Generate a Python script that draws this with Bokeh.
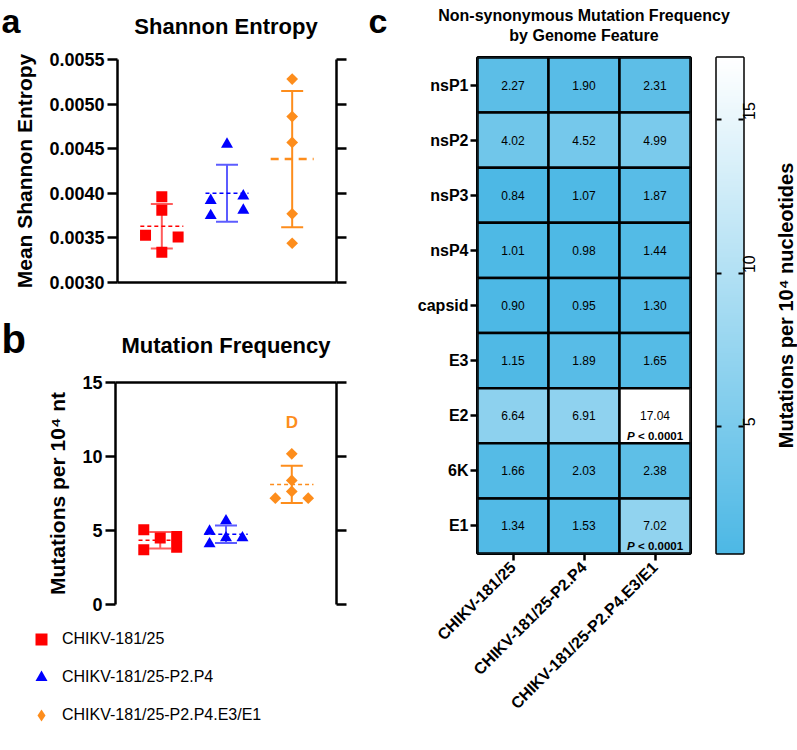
import numpy as np
from bokeh.plotting import figure
from bokeh.models import (ColumnDataSource, FixedTicker, PrintfTickFormatter, CustomJSTickFormatter,
                          LinearAxis, Label, Title, Whisker, TeeHead, Legend, LegendItem,
                          LinearColorMapper, FactorRange, Range1d)
from bokeh.layouts import row, column
from bokeh.embed import file_html
from bokeh.resources import INLINE
from bokeh.core.properties import value

FONT = "Liberation Sans"
MID = 0.3465  # distance (em) between the vertical middle of a text box and its baseline

# ---------------- data ----------------
groups = ["CHIKV-181/25", "CHIKV-181/25-P2.P4", "CHIKV-181/25-P2.P4.E3/E1"]

# panel a: mean Shannon entropy, 5 replicates per virus
entropy_181 = [0.00396, 0.00381, 0.00353, 0.00351, 0.00334]
entropy_p2p4 = [0.00455, 0.00392, 0.00397, 0.00375, 0.00381]
entropy_e3e1 = [0.00528, 0.00486, 0.00457, 0.00377, 0.00344]

# panel b: mutation frequency (mutations per 10^4 nt)
mutfreq_181 = [5.05, 3.70, 4.50, 4.60, 3.87]
mutfreq_p2p4 = [5.65, 4.95, 4.10, 4.50, 4.50]
mutfreq_e3e1 = [10.18, 8.38, 7.64, 7.18, 7.18]

# scatter slot of each replicate inside its column (-1 left, 0 centre, 1 right)
entropy_slot = [[0, 0, -1, 1, 0], [0, -1, 1, -1, 1], [0, 0, 0, 0, 0]]
mutfreq_slot = [[-1, -1, 0, 1, 1], [0, -1, -1, 0, 1], [0, 0, 0, -1, 1]]

entropy_ticks = [0.0030, 0.0035, 0.0040, 0.0045, 0.0050, 0.0055]
mutfreq_ticks = [0, 5, 10, 15]
mutfreq_sig_label = "D"
mutfreq_sig_y = 12.3

# panel c: non-synonymous mutation frequency by genome feature
features = ["nsP1", "nsP2", "nsP3", "nsP4", "capsid", "E3", "E2", "6K", "E1"]
nonsyn_181 = [2.27, 4.02, 0.84, 1.01, 0.90, 1.15, 6.64, 1.66, 1.34]
nonsyn_p2p4 = [1.90, 4.52, 1.07, 0.98, 0.95, 1.89, 6.91, 2.03, 1.53]
nonsyn_e3e1 = [2.31, 4.99, 1.87, 1.44, 1.30, 1.65, 17.04, 2.38, 7.02]
pval_e3e1 = ["", "", "", "", "", "", "< 0.0001", "", "< 0.0001"]
cbar_ticks = [5, 10, 15]

# ---------------- styles ----------------
colors = ["#ff0000", "#0000ff", "#fd8d1c"]
bar_colors = ["#ff5c5c", "#5c5cff", "#fd8d1c"]
markers = ["square", "triangle", "square"]
legend_markers = ["square", "triangle", "diamond"]
marker_sizes = [11, 12, 8.3]
marker_angles = [0.0, 0.0, np.pi / 4]
AX_W = 2.5


def style_axis(ax, tick_out=10, labels=True, size="18px"):
    ax.axis_line_width = AX_W
    ax.axis_line_color = "black"
    ax.major_tick_line_width = AX_W
    ax.major_tick_line_color = "black"
    ax.major_tick_out = tick_out
    ax.major_tick_in = 0
    ax.minor_tick_line_color = None
    ax.major_label_text_font = FONT
    ax.major_label_text_font_size = size
    ax.major_label_text_font_style = "bold"
    ax.major_label_text_color = "black"
    if not labels:
        ax.formatter = CustomJSTickFormatter(code="return ''")


def blank(width, height):
    p = figure(width=width, height=height, x_range=Range1d(0, 1), y_range=Range1d(0, 1),
               output_backend="svg", toolbar_location=None, x_axis_location=None,
               y_axis_location=None, min_border=0, min_border_left=0, min_border_right=0,
               min_border_top=0, min_border_bottom=0, outline_line_color=None)
    p.grid.visible = False
    return p


def add_text(p, text, x, baseline_from_top, size, style="bold", align="left", color="black"):
    """Horizontal text; x and baseline in pixels from the top-left corner of a blank figure."""
    mid = baseline_from_top - MID * size
    p.add_layout(Label(x=x, y=p.height - mid, x_units="screen", y_units="screen", text=text,
                       text_font=FONT, text_font_size=f"{size}px", text_font_style=style,
                       text_align=align, text_baseline="middle", text_color=color))


def side_title(p, text, size, standoff, place="left"):
    p.add_layout(Title(text=text, align="center", text_font=FONT, text_font_size=f"{size}px",
                       text_font_style="bold", text_color="black", standoff=standoff), place)


def dot_panel(width, height, borders, y_range, ticks, formatter, series, slots, x_loc, mean_styles):
    bl, br, bt, bb = borders
    p = figure(width=width, height=height, x_range=Range1d(0.32, 3.68), y_range=Range1d(*y_range),
               output_backend="svg", toolbar_location=None, x_axis_location=x_loc,
               min_border_left=bl, min_border_right=br, min_border_top=bt,
               min_border_bottom=bb, outline_line_color=None)
    p.grid.visible = False
    ya = p.yaxis[0]
    ya.ticker = FixedTicker(ticks=ticks)
    ya.formatter = formatter
    style_axis(ya)
    ya.major_label_standoff = 3
    ra = LinearAxis(ticker=FixedTicker(ticks=ticks))
    style_axis(ra, labels=False)
    p.add_layout(ra, "right")
    xa = p.xaxis[0]
    xa.ticker = FixedTicker(ticks=[])
    style_axis(xa, labels=False)
    for i, (vals, slot) in enumerate(zip(series, slots)):
        xc = i + 1
        arr = np.array(vals, dtype=float)
        m, sd = arr.mean(), arr.std(ddof=1)
        wsrc = ColumnDataSource(dict(x=[xc], lo=[m - sd], hi=[m + sd]))
        p.add_layout(Whisker(source=wsrc, base="x", lower="lo", upper="hi", dimension="height",
                             line_color=bar_colors[i], line_width=2,
                             upper_head=TeeHead(size=22, line_color=bar_colors[i], line_width=2),
                             lower_head=TeeHead(size=22, line_color=bar_colors[i], line_width=2)))
        dash, lw = mean_styles[i]
        p.segment(x0=[xc - 0.33], x1=[xc + 0.33], y0=[m], y1=[m], line_color=colors[i],
                  line_dash=dash, line_width=lw)
        src = ColumnDataSource(dict(x=[xc + 0.25 * s for s in slot], y=vals))
        p.scatter("x", "y", source=src, marker=markers[i], size=marker_sizes[i],
                  angle=marker_angles[i], fill_color=colors[i], line_color=colors[i],
                  line_width=0)
    return p


# ---------------- panel a ----------------
hdr_a = blank(360, 45)
add_text(hdr_a, "a", 1, 32, 34)
add_text(hdr_a, "Shannon Entropy", 225.5, 34, 22, align="center")

fa = dot_panel(360, 265, (115, 24, 14, 28), (0.0030, 0.0055), entropy_ticks,
               PrintfTickFormatter(format="%.4f"),
               [entropy_181, entropy_p2p4, entropy_e3e1], entropy_slot, "below",
               [("4 3", 1.5), ("4 3", 1.5), ("8 6", 2.5)])
side_title(fa, "Mean Shannon Entropy", 21, 21)

# ---------------- panel b ----------------
hdr_b = blank(360, 55)
add_text(hdr_b, "b", 1, 42, 40)
add_text(hdr_b, "Mutation Frequency", 225.5, 43, 22, align="center")

fb = dot_panel(360, 255, (115, 24, 17, 16), (0, 15), mutfreq_ticks, PrintfTickFormatter(format="%d"),
               [mutfreq_181, mutfreq_p2p4, mutfreq_e3e1], mutfreq_slot, "above",
               [("4 3", 1.5), ("4 3", 1.5), ("4 3", 1.5)])
side_title(fb, "Mutations per 10\u2074 nt", 21, 21)
fb.add_layout(Label(x=3, y=mutfreq_sig_y, text=mutfreq_sig_label, text_font=FONT,
                    text_font_size="17px", text_font_style="bold", text_align="center",
                    text_baseline="middle", text_color=colors[2]))

# legend (own canvas; keys drawn by the legend from marker styles)
leg = blank(360, 130)
keys = []
for i in range(3):
    keys.append(leg.scatter(x=np.array([np.nan]), y=np.array([np.nan]), marker=legend_markers[i],
                            size=12, fill_color=colors[i], line_color=colors[i], line_width=0))
legend = Legend(items=[LegendItem(label=g, renderers=[r]) for g, r in zip(groups, keys)],
                location=(26, 20), orientation="vertical", glyph_width=30, glyph_height=30,
                spacing=8, label_standoff=6, label_text_font=FONT, label_text_font_size="16px",
                label_text_color="black", padding=0, margin=0, border_line_color=None,
                background_fill_alpha=0)
leg.add_layout(legend)

# ---------------- panel c ----------------
all_vals = nonsyn_181 + nonsyn_p2p4 + nonsyn_e3e1
lo_v, hi_v = min(all_vals), max(all_vals)
c0 = np.array([77, 184, 229])
c1 = np.array([255, 255, 255])
palette = ["#%02x%02x%02x" % tuple(int(round(v)) for v in c0 + (c1 - c0) * t)
           for t in np.linspace(0, 1, 256)]
mapper = LinearColorMapper(palette=palette, low=lo_v, high=hi_v)

cells = dict(group=[], feature=[], val=[], txt=[], pv=[])
for g, vals, pvs in zip(groups, [nonsyn_181, nonsyn_p2p4, nonsyn_e3e1],
                        [[""] * len(features), [""] * len(features), pval_e3e1]):
    for f, v, pv in zip(features, vals, pvs):
        cells["group"].append(g)
        cells["feature"].append(f)
        cells["val"].append(v)
        cells["txt"].append(f"{v:.2f}")
        cells["pv"].append(pv)
csrc = ColumnDataSource(cells)
sig_idx = [i for i, pv in enumerate(cells["pv"]) if pv]
ssrc = ColumnDataSource({k: [cells[k][i] for i in sig_idx] for k in cells})

HDR_C = 46
hdr_c = blank(437, HDR_C)
add_text(hdr_c, "c", 8, 32, 34)
add_text(hdr_c, "Non-synonymous Mutation Frequency", 223.5, 21, 16, align="center")
add_text(hdr_c, "by Genome Feature", 223.5, 41, 16, align="center")

CH = 750 - HDR_C          # height of the heat-map row
TOP = 57 - HDR_C          # frame top at y = 57
fc = figure(width=340, height=CH, x_range=FactorRange(*groups), y_range=FactorRange(*features[::-1]),
            output_backend="svg", toolbar_location=None, min_border_left=117, min_border_right=10,
            min_border_top=TOP, min_border_bottom=162, outline_line_color="black",
            outline_line_width=3)
fc.grid.visible = False
fc.rect(x="group", y="feature", width=1, height=1, source=csrc,
        fill_color={"field": "val", "transform": mapper}, line_color="black", line_width=2.5)
fc.text(x="group", y="feature", text="txt", source=csrc, text_align="center", text_baseline="middle",
        text_font=value(FONT), text_font_size="12px", text_color="black")
fc.text(x="group", y="feature", text=value("P"), source=ssrc, x_offset=-20.3, y_offset=20,
        text_align="right", text_baseline="middle", text_font=value(FONT), text_font_size="11.5px",
        text_font_style="bold italic", text_color="black")
fc.text(x="group", y="feature", text="pv", source=ssrc, x_offset=-17, y_offset=20,
        text_align="left", text_baseline="middle", text_font=value(FONT), text_font_size="11.5px",
        text_font_style="bold", text_color="black")
for ax in (fc.xaxis[0], fc.yaxis[0]):
    style_axis(ax, tick_out=7, size="16px")
    ax.axis_line_color = None
fc.xaxis.major_label_orientation = np.pi / 4
fc.xaxis.major_label_standoff = 4
fc.yaxis.major_label_standoff = 2

# ---------------- colour bar ----------------
fcb = figure(width=67, height=CH, x_range=Range1d(0, 1), y_range=Range1d(lo_v, hi_v),
             output_backend="svg", toolbar_location=None, x_axis_location=None,
             y_axis_location="right", min_border_left=16, min_border_right=24,
             min_border_top=TOP, min_border_bottom=162, outline_line_color="black",
             outline_line_width=2.5)
fcb.grid.visible = False
grad = np.linspace(lo_v, hi_v, 256).reshape(256, 1)
fcb.image(image=[grad], x=0, y=lo_v, dw=1, dh=hi_v - lo_v, color_mapper=mapper)
cya = fcb.yaxis[0]
cya.ticker = FixedTicker(ticks=cbar_ticks)
style_axis(cya, tick_out=0, size="16px")
cya.axis_line_color = None
cya.major_tick_in = 5
cya.major_tick_line_width = 2
cya.major_label_text_font_style = "normal"
cya.major_label_orientation = float(np.pi / 2)
cya.major_label_standoff = 6
cla = LinearAxis(ticker=FixedTicker(ticks=cbar_ticks))
style_axis(cla, tick_out=0, labels=False)
cla.axis_line_color = None
cla.major_tick_in = 5
cla.major_tick_line_width = 2
fcb.add_layout(cla, "left")

# colour-bar title: a strip whose (1 px) frame is centred on the title's vertical position
cblab = figure(width=30, height=CH, x_range=Range1d(0, 1), y_range=Range1d(0, 1),
               output_backend="svg", toolbar_location=None, x_axis_location=None,
               y_axis_location=None, min_border_left=29, min_border_right=0,
               min_border_top=TOP, min_border_bottom=197, outline_line_color=None)
cblab.grid.visible = False
side_title(cblab, "Mutations per 10\u2074 nucleotides", 20, 0)

# each chart panel sits in its own row so that the text strips keep their own frames
left_col = column(hdr_a, row(fa), hdr_b, row(fb), leg)
right_col = column(hdr_c, row(fc, fcb, cblab))
root = row(left_col, right_col)

with open("out.html", "w") as fh:
    fh.write(file_html(root, INLINE, "CHIKV mutation figure"))
